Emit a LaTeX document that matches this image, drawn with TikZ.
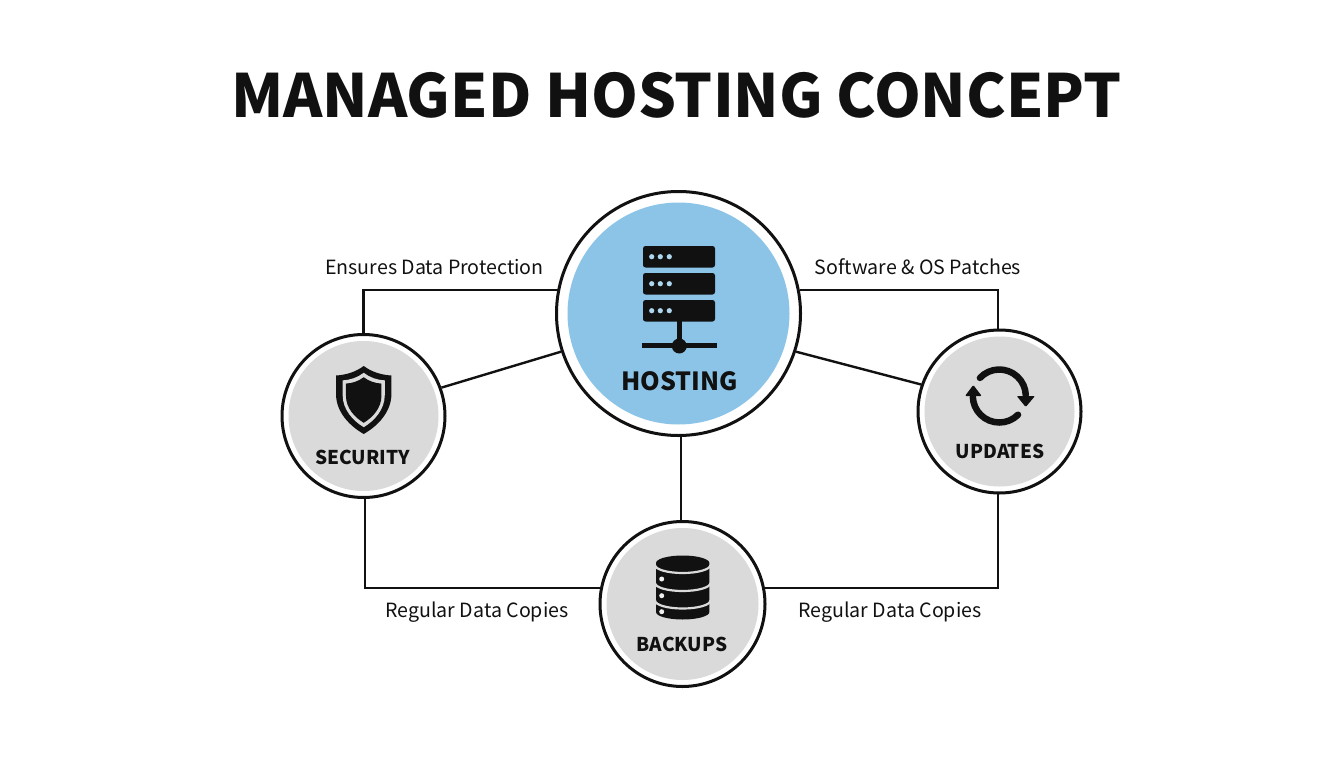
\documentclass[tikz,border=0pt]{standalone}
\usepackage{fontspec}
\setmainfont{Noto Sans CJK SC}
\definecolor{ink}{HTML}{111111}
\definecolor{discblue}{HTML}{8CC4E8}
\definecolor{discgray}{HTML}{DADADA}
\tikzset{
    ring/.style={circle, draw=ink, fill=white, line width=3pt, inner sep=0pt},
    link/.style={draw=ink, line width=2.4pt},
    caption/.style={anchor=base, text=ink, font=\fontsize{19.6}{24}\selectfont, inner sep=0pt},
    tag/.style={anchor=base, text=ink, font=\fontsize{19}{24}\selectfont\bfseries, inner sep=0pt},
}
\begin{document}
\begin{tikzpicture}[x=1pt, y=-1pt]
    \useasboundingbox (0,0) rectangle (1344,768);

    \node[tag, font=\fontsize{59.6}{72}\selectfont\bfseries] (title) at (676.5,117.3) {MANAGED HOSTING CONCEPT};

    % rings
    \node[ring, minimum size=244pt] (hosting) at (678.5,313.5) {};
    \node[ring, minimum size=163pt] (security) at (363.5,416) {};
    \node[ring, minimum size=163pt] (updates) at (999.5,411.5) {};
    \node[ring, minimum size=165pt] (backups) at (682.5,604) {};

    \fill[discblue] (hosting) circle (111);
    \fill[discgray] (security) circle (75);
    \fill[discgray] (updates) circle (75);
    \fill[discgray] (backups) circle (76);

    % connectors
    \draw[link] (security.north) |- (hosting.168.8 |- hosting.11.2);
    \draw[link] (hosting.11.2) -| (updates.91);
    \draw[link] (security.20.3) -- (hosting.198.1);
    \draw[link] (hosting.342) -- (updates.161.6);
    \draw[link] (backups.91.7) -- (backups.91.7 |- hosting.south);
    \draw[link] (security.271) |- (backups.168.67 |- backups.11.33);
    \draw[link] (backups.11.33) -| (updates.269);

    % server
    \foreach \y in {246,273,300} {
        \fill[ink, rounded corners=2.5pt] (643,\y) rectangle (715,\y+21.5);
        \foreach \x in {651.7,660.3,669.3} \fill[discblue!70!white] (\x,\y+10.7) circle (2.6);
    }
    \draw[ink, line width=5pt] (679.3,321) -- (679.3,346);
    \draw[ink, line width=5pt] (642,345.7) -- (717,345.7);
    \fill[ink] (679.3,346) circle (7.5);
    \node[tag, font=\fontsize{25}{30}\selectfont\bfseries] (hostingtag) at (679.3,390.7) {HOSTING};

    % shield
    \foreach \s/\t/\c in {1/1/ink, .76/.8/discgray, .64/.67/ink} {
        \begin{scope}[shift={(363.7,400)}, xscale=\s, yscale=\t]
            \fill[\c] (0,-34) .. controls (-8,-28) and (-18,-25) .. (-27.7,-24.5)
                -- (-27.7,-6) .. controls (-27.7,12) and (-14,26) .. (0,34)
                .. controls (14,26) and (27.7,12) .. (27.7,-6)
                -- (27.7,-24.5) .. controls (18,-25) and (8,-28) .. cycle;
        \end{scope}
    }
    \node[tag] (securitytag) at (362.5,464) {SECURITY};

    % refresh arrows
    \draw[ink, line width=6.5pt, line cap=round] (999.3,396) ++(-137:26.5) arc[start angle=-137, end angle=-2, radius=26.5];
    \draw[ink, line width=6.5pt, line cap=round] (999.3,396) ++(45:26.5) arc[start angle=45, end angle=178, radius=26.5];
    \fill[ink, rounded corners=1pt] (1016.7,396) -- (1035,396) -- (1025.7,407) -- cycle;
    \fill[ink, rounded corners=1pt] (965,396) -- (981.7,396) -- (973.3,385) -- cycle;
    \node[tag] (updatestag) at (1000,458.3) {UPDATES};

    % database
    \fill[ink] (656,563) -- (656,612) arc[start angle=180, end angle=0, x radius=26.7, y radius=7.5]
        -- (709.4,563) arc[start angle=0, end angle=-180, x radius=26.7, y radius=7.5] -- cycle;
    \foreach \y/\d in {565/579, 583/595.7, 600.5/611.7} {
        \draw[discgray, line width=2.2pt] (655,\y) arc[start angle=180, end angle=0, x radius=27.7, y radius=8];
        \fill[discgray!40!white] (661.7,\d) circle (2.5);
    }
    \node[tag] (backupstag) at (682,651.7) {BACKUPS};

    % link captions
    \node[caption] (protection) at (434.5,274.5) {Ensures Data Protection};
    \node[caption] (patches) at (918,274.5) {Software \& OS Patches};
    \node[caption] (copiesleft) at (477,617.3) {Regular Data Copies};
    \node[caption] (copiesright) at (890,617.3) {Regular Data Copies};
\end{tikzpicture}
\end{document}
